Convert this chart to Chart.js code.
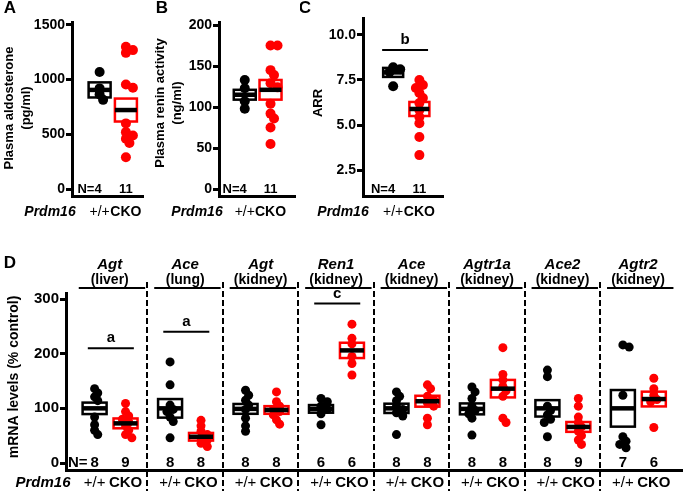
<!DOCTYPE html>
<html>
<head>
<meta charset="utf-8">
<script src="https://cdn.jsdelivr.net/npm/chart.js@4.4.1/dist/chart.umd.min.js"></script>
<style>
  html, body { margin: 0; padding: 0; background: #fff; }
  #wrap { position: relative; width: 687px; height: 491px; overflow: hidden; }
  canvas { position: absolute; }
</style>
</head>
<body>
<div id="wrap">
  <canvas id="chartA" width="150" height="222" style="left:0;top:0"></canvas>
  <canvas id="chartB" width="150" height="222" style="left:150px;top:0"></canvas>
  <canvas id="chartC" width="150" height="222" style="left:300px;top:0"></canvas>
  <canvas id="chartD" width="687" height="251" style="left:0;top:240px"></canvas>
</div>
<script>
// ---- panels A-C ----
const groupsABC = ['+/+', 'CKO'];
const nABC = [4, 11];

const aldoWT = [1070, 920, 865, 815];
const aldoCKO = [1300, 1270, 1245, 955, 925, 600, 520, 490, 460, 420, 290];
const aldoMean = [906, 722];
const aldoSem = [69, 105];

const reninWT = [133, 123, 107, 98];
const reninCKO = [175, 175, 145, 139, 129, 124, 104, 92, 86, 75, 55];
const reninMean = [115, 121];
const reninSem = [6, 12];

const arrWT = [8.2, 8.1, 7.95, 7.15];
const arrCKO = [7.5, 7.22, 7.05, 6.78, 6.5, 6.22, 5.83, 5.44, 5.1, 4.33, 3.33];
const arrMean = [7.92, 5.89];
const arrSem = [0.25, 0.39];

// ---- panel D ----
const genes = ['Agt', 'Ace', 'Agt', 'Ren1', 'Ace', 'Agtr1a', 'Ace2', 'Agtr2'];
const tissues = ['(liver)', '(lung)', '(kidney)', '(kidney)', '(kidney)', '(kidney)', '(kidney)', '(kidney)'];
const nWT = [8, 8, 8, 6, 8, 8, 8, 7];
const nCKO = [9, 8, 8, 6, 8, 8, 9, 6];
const mrnaWT = [
  [136, 128, 121, 114, 84, 70, 60, 52],
  [185, 143, 106, 98, 94, 84, 76, 46],
  [133, 124, 115, 106, 98, 82, 68, 58],
  [118, 112, 104, 98, 90, 70],
  [130, 122, 114, 104, 98, 92, 86, 52],
  [139, 130, 118, 104, 96, 90, 82, 51],
  [170, 158, 104, 96, 88, 80, 74, 48],
  [216, 212, 124, 48, 40, 34, 28]
];
const mrnaCKO = [
  [109, 94, 86, 80, 75, 68, 60, 52, 46],
  [78, 68, 58, 52, 46, 42, 36, 30],
  [130, 112, 104, 98, 94, 88, 79, 71],
  [254, 228, 218, 195, 182, 161],
  [143, 136, 122, 116, 110, 104, 82, 70],
  [211, 162, 152, 140, 132, 122, 82, 74],
  [118, 104, 84, 74, 66, 58, 50, 42, 34],
  [155, 136, 124, 116, 112, 65]
];
const meanWT = [100, 100, 99, 99, 100, 99, 100, 100];
const semWT = [10.5, 17, 9, 7, 8.5, 10, 15, 33.5];
const meanCKO = [72.5, 48, 97, 206, 113, 136, 66, 117];
const semCKO = [9, 7, 7, 14, 10, 16, 9, 13.5];
const sigD = [
  { group: 0, y: 210, label: 'a' },
  { group: 1, y: 240, label: 'a' },
  { group: 3, y: 292, label: 'c' }
];
const ticksD = [0, 100, 200, 300];

const RED = '#ff0000';
const FONT = '"Liberation Sans", Arial, Helvetica, sans-serif';
Chart.defaults.font.family = FONT;
Chart.defaults.color = '#000';

function f(size, weight = 'bold', style = 'normal') {
  return style + ' ' + weight + ' ' + size + 'px ' + FONT;
}

function text(ctx, s, x, y, font, align = 'center', rot = 0) {
  ctx.save();
  ctx.font = font;
  ctx.fillStyle = '#000';
  ctx.textAlign = align;
  ctx.textBaseline = 'middle';
  ctx.translate(x, y);
  if (rot) ctx.rotate(rot);
  ctx.fillText(s, 0, 0);
  ctx.restore();
}

function hline(ctx, x1, x2, y, w = 2) {
  ctx.save();
  ctx.strokeStyle = '#000';
  ctx.lineWidth = w;
  ctx.beginPath();
  ctx.moveTo(x1, y);
  ctx.lineTo(x2, y);
  ctx.stroke();
  ctx.restore();
}

function pts(values, x) {
  return values.map(v => ({ x: x, y: v }));
}

function yAxis(min, max, ticks, width, size, fmt) {
  return {
    type: 'linear', min: min, max: max,
    afterBuildTicks: s => { s.ticks = ticks.map(v => ({ value: v })); },
    afterFit: s => { s.width = width; },
    grid: { display: true, drawOnChartArea: false, drawTicks: true, tickLength: 6, tickWidth: 3, tickColor: '#000' },
    border: { display: true, width: 3, color: '#000' },
    ticks: { font: { size: size, weight: 'bold' }, color: '#000', padding: 1, callback: fmt }
  };
}

function xAxis(min, max) {
  return {
    type: 'linear', min: min, max: max,
    afterFit: s => { s.height = 0; },
    grid: { display: false },
    ticks: { display: false },
    border: { display: true, width: 3, color: '#000' }
  };
}

// spread overlapping dots sideways (simple beeswarm)
const swarm = {
  id: 'swarm',
  afterDatasetsUpdate(chart) {
    chart.data.datasets.forEach((ds, i) => {
      const r = ds.pointRadius;
      const groups = {};
      chart.getDatasetMeta(i).data.forEach(p => {
        const k = Math.round(p.x);
        (groups[k] = groups[k] || []).push(p);
      });
      Object.values(groups).forEach(g => {
        g.sort((a, b) => a.y - b.y);
        const placed = [];
        g.forEach(p => {
          const x0 = p.x;
          for (const k of [0, 1, -1, 2, -2, 3, -3]) {
            const nx = x0 + k * r * 0.7;
            if (placed.every(q => Math.hypot(q.x - nx, q.y - p.y) >= r * 1.1)) { p.x = nx; break; }
          }
          placed.push(p);
        });
      });
    });
  }
};

// mean +/- SEM boxes with a thick mean line
function semBoxes(list, w) {
  return {
    id: 'semBoxes',
    beforeDatasetsDraw(chart) {
      const { ctx, scales: { x, y } } = chart;
      list.forEach(b => {
        const cx = x.getPixelForValue(b.x);
        const top = y.getPixelForValue(b.mean + b.sem), bot = y.getPixelForValue(b.mean - b.sem);
        ctx.fillStyle = '#fff';
        ctx.fillRect(cx - w / 2, top, w, bot - top);
      });
    },
    afterDatasetsDraw(chart) {
      const { ctx, scales: { x, y } } = chart;
      list.forEach(b => {
        const cx = x.getPixelForValue(b.x);
        const top = y.getPixelForValue(b.mean + b.sem), bot = y.getPixelForValue(b.mean - b.sem);
        ctx.save();
        ctx.strokeStyle = b.color;
        ctx.lineWidth = 2.5;
        ctx.strokeRect(cx - w / 2, top, w, bot - top);
        ctx.restore();
        hline(ctx, cx - w / 2, cx + w / 2, y.getPixelForValue(b.mean), 4.5);
      });
    }
  };
}

function smallPanel(id, o) {
  const xs = [o.xWT, o.xWT + 1];
  const boxes = [0, 1].map(i => ({ x: xs[i], mean: o.mean[i], sem: o.sem[i], color: i ? RED : '#000' }));
  return new Chart(document.getElementById(id), {
    type: 'scatter',
    data: {
      datasets: [
        { data: pts(o.wt, xs[0]), backgroundColor: '#000', pointRadius: 5, borderWidth: 0 },
        { data: pts(o.cko, xs[1]), backgroundColor: RED, pointRadius: 5, borderWidth: 0 }
      ]
    },
    options: {
      responsive: false, animation: false, events: [],
      layout: { padding: o.pad },
      plugins: { legend: { display: false }, tooltip: { enabled: false } },
      scales: { x: xAxis(0, o.xMax), y: yAxis(o.yMin, o.yMax, o.ticks, o.yWidth, 14, o.fmt) }
    },
    plugins: [swarm, semBoxes(boxes, o.boxW), {
      id: 'labels',
      afterDraw(chart) {
        const { ctx, scales: { x, y } } = chart;
        text(ctx, o.letter, o.letterX, 8, f(17));
        o.titles.forEach((t, i) => text(ctx, t, o.titleX[i], o.titleY, f(13), 'center', -Math.PI / 2));
        const bx = x.getPixelForValue(xs[0]), rx = x.getPixelForValue(xs[1]);
        text(ctx, 'N=' + nABC[0], bx + 2, 189, f(13), 'right');
        text(ctx, String(nABC[1]), rx, 189, f(13));
        text(ctx, 'Prdm16', o.geneX, 212, f(14, 'bold', 'italic'));
        text(ctx, groupsABC[0], bx, 212, f(14, 'normal'));
        text(ctx, groupsABC[1], rx, 212, f(14));
        if (o.sig) {
          const yy = y.getPixelForValue(o.sig.y);
          hline(ctx, x.getPixelForValue(o.sig.x1), x.getPixelForValue(o.sig.x2), yy);
          text(ctx, o.sig.label, (x.getPixelForValue(o.sig.x1) + x.getPixelForValue(o.sig.x2)) / 2, yy - 10, f(15));
        }
      }
    }]
  });
}

smallPanel('chartA', {
  wt: aldoWT, cko: aldoCKO, mean: aldoMean, sem: aldoSem,
  yMin: -64, yMax: 1527, ticks: [0, 500, 1000, 1500], fmt: v => String(v),
  yWidth: 72, pad: { left: 0, top: 22, right: 7, bottom: 26 }, xMax: 2.7, xWT: 1.05, boxW: 22,
  letter: 'A', letterX: 10, titles: ['Plasma aldosterone', '(pg/ml)'], titleX: [9, 26], titleY: 108, geneX: 50
});

smallPanel('chartB', {
  wt: reninWT, cko: reninCKO, mean: reninMean, sem: reninSem,
  yMin: -8.5, yMax: 203.7, ticks: [0, 50, 100, 150, 200], fmt: v => String(v),
  yWidth: 69, pad: { left: 0, top: 22, right: 3, bottom: 26 }, xMax: 2.95, xWT: 1.0, boxW: 22,
  letter: 'B', letterX: 12, titles: ['Plasma renin activity', '(ng/ml)'], titleX: [10, 27], titleY: 103, geneX: 47
});

smallPanel('chartC', {
  wt: arrWT, cko: arrCKO, mean: arrMean, sem: arrSem,
  yMin: 1.06, yMax: 10.94, ticks: [2.5, 5.0, 7.5, 10.0], fmt: v => v.toFixed(1),
  yWidth: 63, pad: { left: 0, top: 18, right: 7, bottom: 26 }, xMax: 3.05, xWT: 1.15, boxW: 20,
  letter: 'C', letterX: 5, titles: ['ARR'], titleX: [18], titleY: 103, geneX: 43,
  sig: { x1: 0.73, x2: 2.48, y: 9.17, label: 'b' }
});

// ---- panel D ----
const X_WT = 0.3, X_CKO = 0.71;
const boxesD = [];
genes.forEach((g, i) => {
  boxesD.push({ x: i + X_WT, mean: meanWT[i], sem: semWT[i], color: '#000' });
  boxesD.push({ x: i + X_CKO, mean: meanCKO[i], sem: semCKO[i], color: RED });
});

new Chart(document.getElementById('chartD'), {
  type: 'scatter',
  data: {
    datasets: [
      { data: mrnaWT.flatMap((v, i) => pts(v, i + X_WT)), backgroundColor: '#000', pointRadius: 4.5, borderWidth: 0 },
      { data: mrnaCKO.flatMap((v, i) => pts(v, i + X_CKO)), backgroundColor: RED, pointRadius: 4.5, borderWidth: 0 }
    ]
  },
  options: {
    responsive: false, animation: false, events: [],
    layout: { padding: { left: 0, top: 53, right: 0, bottom: 21 } },
    plugins: { legend: { display: false }, tooltip: { enabled: false } },
    scales: { x: xAxis(-0.079, 8.09), y: yAxis(-12.8, 311, ticksD, 66, 15, v => String(v)) }
  },
  plugins: [swarm, semBoxes(boxesD, 24), {
    id: 'labelsD',
    afterDraw(chart) {
      const { ctx, scales: { x, y } } = chart;
      text(ctx, 'D', 10, 23, f(17));
      text(ctx, 'mRNA levels (% control)', 14, 137, f(14), 'center', -Math.PI / 2);
      // dashed separators
      ctx.save();
      ctx.strokeStyle = '#000';
      ctx.lineWidth = 2;
      ctx.setLineDash([6, 3]);
      for (let i = 1; i < genes.length; i++) {
        const px = Math.round(x.getPixelForValue(i));
        ctx.beginPath();
        ctx.moveTo(px, 42);
        ctx.lineTo(px, 251);
        ctx.stroke();
      }
      ctx.restore();
      genes.forEach((g, i) => {
        const cx = x.getPixelForValue(i + 0.5);
        text(ctx, g, cx, 25, f(15, 'bold', 'italic'));
        text(ctx, tissues[i], cx, 40, f(14));
        hline(ctx, x.getPixelForValue(i + 0.09), x.getPixelForValue(i + 0.97), 48);
        const bx = x.getPixelForValue(i + X_WT), rx = x.getPixelForValue(i + X_CKO);
        text(ctx, String(nWT[i]), bx, 223, f(15));
        text(ctx, String(nCKO[i]), rx, 223, f(15));
        text(ctx, '+/+', bx, 243, f(15, 'normal'));
        text(ctx, 'CKO', rx, 243, f(15));
      });
      text(ctx, 'N=', 68, 223, f(15), 'left');
      text(ctx, 'Prdm16', 43, 243, f(15, 'bold', 'italic'));
      sigD.forEach(s => {
        const x1 = x.getPixelForValue(s.group + 0.21), x2 = x.getPixelForValue(s.group + 0.82);
        const yy = y.getPixelForValue(s.y);
        hline(ctx, x1, x2, yy);
        text(ctx, s.label, (x1 + x2) / 2, yy - 10, f(15));
      });
    }
  }]
});
</script>
</body>
</html>
